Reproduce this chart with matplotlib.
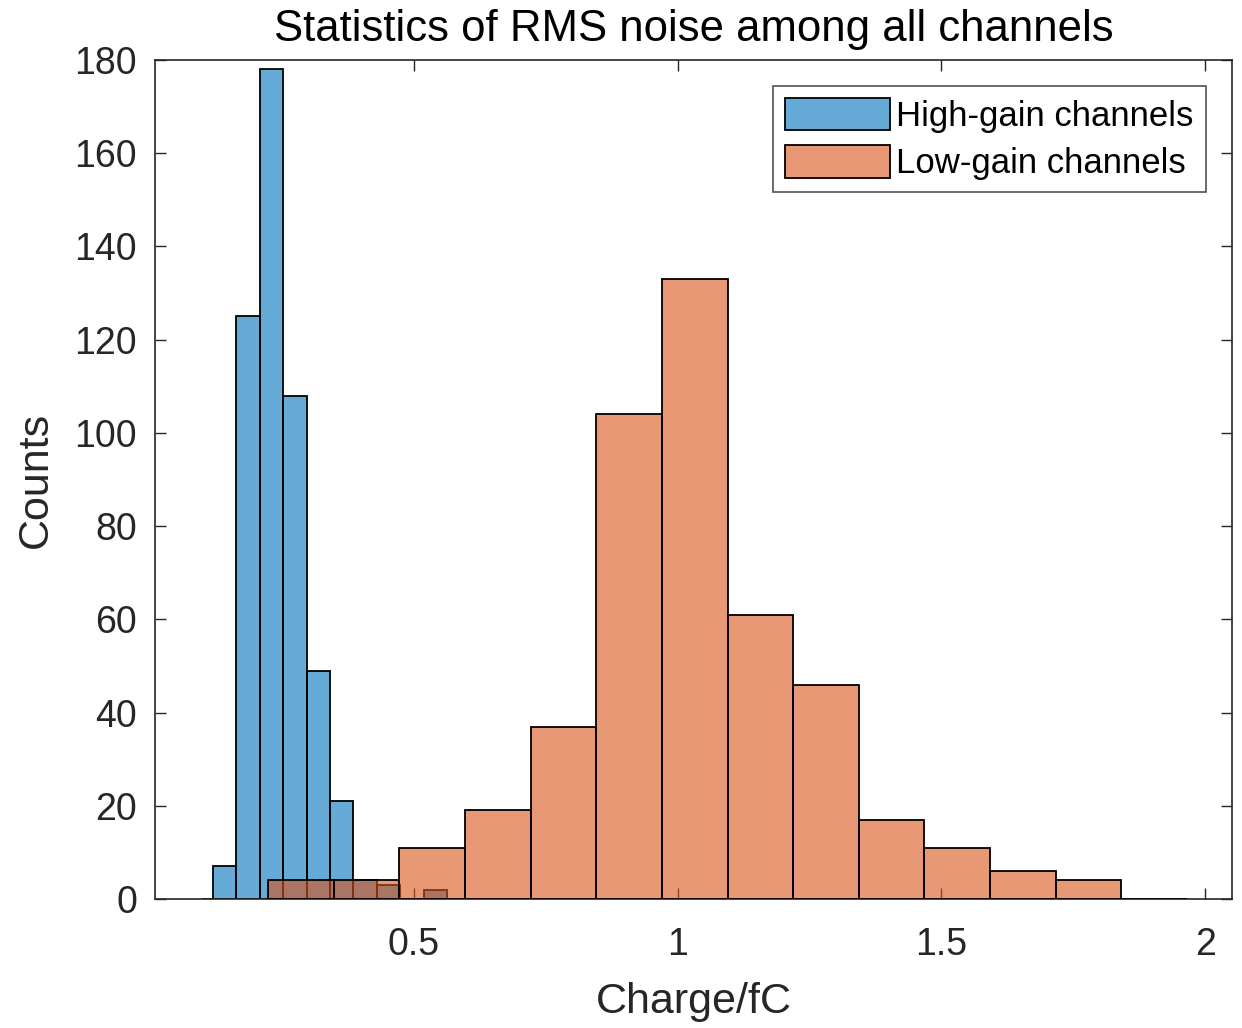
import matplotlib
matplotlib.use("Agg")
import matplotlib.pyplot as plt
from matplotlib.colors import to_rgba
from matplotlib.patches import Patch
import numpy as np

plt.rcParams['font.family'] = ['Liberation Sans', 'DejaVu Sans']

# histogram data (bin edges in fC, counts per bin)
high_edges = [0.0979, 0.1188, 0.1632, 0.2076, 0.2520, 0.2964, 0.3408,
              0.3852, 0.4296, 0.4740, 0.5184, 0.5628]
high_counts = [0, 7, 125, 178, 108, 49, 21, 4, 3, 0, 2]

low_edges = [0.2237, 0.3481, 0.4725, 0.5969, 0.7213, 0.8457, 0.9701, 1.0945,
             1.2189, 1.3433, 1.4677, 1.5921, 1.7165, 1.8409, 1.9653]
low_counts = [4, 4, 11, 19, 37, 104, 133, 61, 46, 17, 11, 6, 4, 0]

labels = ['High-gain channels', 'Low-gain channels']
xticks = [0.5, 1, 1.5, 2]
xticklabels = ['0.5', '1', '1.5', '2']
yticks = list(range(0, 181, 20))

blue = to_rgba((0, 0.447, 0.741), 0.6)
orange = to_rgba((0.85, 0.325, 0.098), 0.6)
axcol = '#262626'

fig = plt.figure(figsize=(12.42, 10.28), dpi=100)
ax = fig.add_axes([0.1248, 0.1255, 0.992 - 0.1248, 0.9416 - 0.1255])

for edges, counts, col, z in [(high_edges, high_counts, blue, 2),
                              (low_edges, low_counts, orange, 3)]:
    e = np.array(edges)
    ax.bar(e[:-1], counts, width=np.diff(e), align='edge',
           facecolor=col, edgecolor='black', linewidth=1.3, zorder=z)

ax.set_xlim(0.009, 2.051)
ax.set_ylim(0, 180)
ax.set_xticks(xticks)
ax.set_xticklabels(xticklabels)
ax.set_yticks(yticks)

ax.tick_params(direction='in', length=8, width=1, colors=axcol,
               labelsize=27, top=True, right=True)
ax.tick_params(axis='x', pad=20)
ax.tick_params(axis='y', pad=13)
for s in ax.spines.values():
    s.set_color(axcol)
    s.set_linewidth(1.2)

ax.set_title('Statistics of RMS noise among all channels', fontsize=31.5,
             color='black', pad=14)
ax.set_xlabel('Charge/fC', fontsize=31, color=axcol, labelpad=14)
ax.set_ylabel('Counts', fontsize=31, color=axcol, labelpad=13)

handles = [Patch(facecolor=blue, edgecolor='black', linewidth=1.3),
           Patch(facecolor=orange, edgecolor='black', linewidth=1.3)]
leg = ax.legend(handles, labels, loc='upper right', fontsize=25,
                frameon=True, fancybox=False, borderaxespad=0.75,
                handlelength=3.0, handleheight=1.05, handletextpad=0.2,
                labelspacing=0.35, borderpad=0.35)
leg.get_frame().set_edgecolor(axcol)
leg.get_frame().set_linewidth(1.2)

fig.savefig('out.png', dpi=100)
